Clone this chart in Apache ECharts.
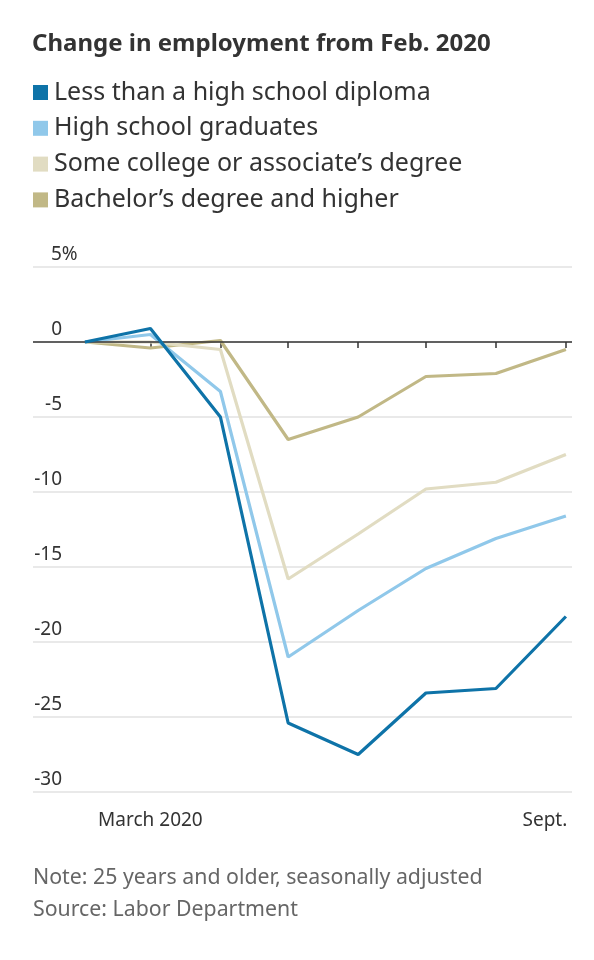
<!DOCTYPE html>
<html>
<head>
<meta charset="utf-8">
<script src="https://cdn.jsdelivr.net/npm/echarts@6/dist/echarts.min.js"></script>
<style>
html, body { margin: 0; padding: 0; background: #fff; }
#chart { width: 594px; height: 960px; }
</style>
</head>
<body>
<div id="chart"></div>
<script>
// monthly readings, Feb..Sept 2020
var dates = ['2020-02-01', '2020-03-01', '2020-04-01', '2020-05-01', '2020-06-01', '2020-07-01', '2020-08-01', '2020-09-01'];
var lessThanHS = [0, 0.9, -5.0, -25.4, -27.5, -23.4, -23.1, -18.3];
var hsGrads = [0, 0.5, -3.3, -21.0, -17.9, -15.1, -13.1, -11.6];
var someCollege = [0, 0.0, -0.5, -15.8, -12.8, -9.8, -9.35, -7.5];
var bachelors = [0, -0.4, 0.1, -6.5, -5.0, -2.3, -2.1, -0.5];
var seriesNames = ['Less than a high school diploma', 'High school graduates', 'Some college or associate\u2019s degree', 'Bachelor\u2019s degree and higher'];
var xLabels = { '2020-03-01': 'March 2020', '2020-09-01': 'Sept.' };
var yTicks = [-30, -25, -20, -15, -10, -5, 0, 5];
var colors = ['#0e73a8', '#90c8ea', '#e1dcc2', '#c1b886'];

var DAY = 86400000;
function dayNo(s) {
    return Math.round((Date.parse(s) - Date.parse(dates[0])) / DAY);
}
var xDays = dates.map(dayNo);

function pts(arr) {
    return arr.map(function (v, i) { return [xDays[i], v]; });
}

var chart = echarts.init(document.getElementById('chart'));
var fontFam = '"Noto Sans", "Open Sans", sans-serif';

function line(name, data, color, z) {
    return {
        name: name,
        type: 'line',
        data: pts(data),
        symbol: 'none',
        z: z,
        lineStyle: { width: 3.2, color: color },
        itemStyle: { color: color },
        animation: false
    };
}

var series = [
    line(seriesNames[3], bachelors, colors[3], 2),
    line(seriesNames[2], someCollege, colors[2], 3),
    line(seriesNames[1], hsGrads, colors[1], 4),
    line(seriesNames[0], lessThanHS, colors[0], 5)
];
// zero line
series[0].markLine = {
    silent: true,
    symbol: 'none',
    label: { show: false },
    lineStyle: { color: '#333', width: 1.6, type: 'solid' },
    data: [{ yAxis: 0 }],
    animation: false
};

chart.setOption({
    backgroundColor: '#fff',
    animation: false,
    title: [{
        text: 'Change in employment from Feb. 2020',
        left: 32,
        top: 32,
        padding: 0,
        textStyle: { fontFamily: fontFam, fontSize: 24, fontWeight: 'bold', color: '#333' }
    }, {
        text: 'Note: 25 years and older, seasonally adjusted\nSource: Labor Department',
        left: 33,
        top: 862,
        padding: 0,
        textStyle: { fontFamily: fontFam, fontSize: 21.3, fontWeight: 'normal', color: '#666', lineHeight: 32 }
    }],
    legend: {
        orient: 'vertical',
        left: 33,
        top: 80,
        padding: 0,
        icon: 'rect',
        itemWidth: 15,
        itemHeight: 15,
        itemGap: 10.8,
        data: seriesNames,
        selectedMode: false,
        textStyle: { fontFamily: fontFam, fontSize: 25, color: '#333', lineHeight: 25, padding: [0, 0, 0, 1] }
    },
    grid: { left: 33, right: 22, top: 267, bottom: 168 },
    xAxis: {
        type: 'value',
        min: -23,
        max: 215.7,
        axisLine: { show: false },
        splitLine: { show: false },
        axisTick: {
            show: true,
            customValues: xDays.slice(1),
            length: 6,
            lineStyle: { color: '#333', width: 1.5 }
        },
        axisLabel: {
            customValues: [dayNo('2020-03-01'), dayNo('2020-09-01')],
            margin: 19,
            fontFamily: fontFam,
            fontSize: 19,
            color: '#333',
            formatter: function (v) {
                var idx = xDays.indexOf(Math.round(v));
                var txt = xLabels[dates[idx]] || '';
                if (idx === dates.length - 1) return '{r|' + txt + '}';
                return txt;
            },
            rich: { r: { fontFamily: fontFam, fontSize: 19, color: '#333', padding: [0, 42, 0, 0] } }
        }
    },
    yAxis: {
        type: 'value',
        min: yTicks[0],
        max: yTicks[yTicks.length - 1],
        interval: 5,
        axisLine: { show: false },
        axisTick: { show: false },
        splitLine: { show: true, lineStyle: { color: '#e2e2e2', width: 1.5 } },
        axisLabel: {
            inside: true,
            margin: 29,
            align: 'right',
            verticalAlign: 'bottom',
            padding: [0, 0, 3, 0],
            fontFamily: fontFam,
            fontSize: 19,
            color: '#333',
            formatter: function (v) {
                if (v === 5) return '{p|5%}';
                return String(v);
            },
            rich: { p: { fontFamily: fontFam, fontSize: 19, color: '#333', width: 11, align: 'left' } }
        }
    },
    series: series
});
</script>
</body>
</html>
